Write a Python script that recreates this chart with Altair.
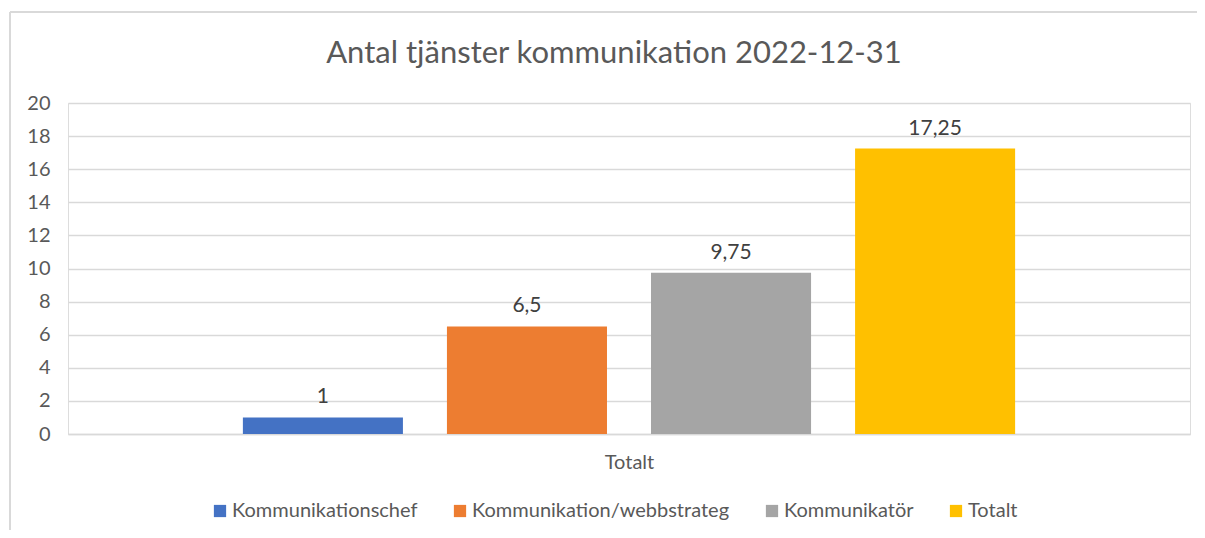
import altair as alt
import pandas as pd

series = ["Kommunikationschef", "Kommunikation/webbstrateg", "Kommunikatör", "Totalt"]
values = [1, 6.5, 9.75, 17.25]
colors = ["#4472C4", "#ED7D31", "#A5A5A5", "#FFC000"]
category = "Totalt"
y_ticks = [0, 2, 4, 6, 8, 10, 12, 14, 16, 18, 20]


def fmt(v):
    s = ("%g" % v)
    return s.replace(".", ",")


df = pd.DataFrame({
    "serie": series,
    "value": values,
    "label": [fmt(v) for v in values],
})

FONT = "Lato"
TXT = "#595959"

x_enc = alt.X(
    "serie:N",
    sort=series,
    scale=alt.Scale(paddingInner=0.2157, paddingOuter=0.857),
    axis=alt.Axis(
        labels=False, ticks=False, domain=True, domainColor="#D9D9D9", domainWidth=1.5,
        title=category, titleFontSize=20, titleFont=FONT, titleColor=TXT,
        titleFontWeight="normal", titlePadding=18,
    ),
)
y_enc = alt.Y(
    "value:Q",
    scale=alt.Scale(domain=[0, 20], nice=False),
    axis=alt.Axis(
        values=y_ticks, title=None, domain=False, ticks=False, labelOverlap=False,
        gridColor="#D9D9D9", gridWidth=1.5,
        labelFont=FONT, labelFontSize=20, labelColor=TXT, labelPadding=18,
    ),
)

bars = alt.Chart(df).mark_bar().encode(
    x=x_enc,
    y=y_enc,
    color=alt.Color(
        "serie:N",
        sort=series,
        scale=alt.Scale(domain=series, range=colors),
        legend=alt.Legend(
            title=None, orient="none", legendX=142, legendY=398,
            direction="horizontal", symbolType="square", symbolSize=150,
            symbolStrokeWidth=0, labelFont=FONT, labelFontSize=20, labelLimit=0,
            labelColor=TXT, columnPadding=32, labelOffset=2,
        ),
    ),
)

labels = alt.Chart(df).mark_text(
    baseline="alphabetic", dy=-14, font=FONT, fontSize=21, color="#404040"
).encode(
    x=x_enc,
    y=y_enc,
    text="label:N",
)

border_top = alt.Chart(df).mark_rule(
    stroke="#D9D9D9", strokeWidth=2, clip=False
).encode(
    x=alt.value(-58), x2=alt.value(1129), y=alt.value(-91)
)
border_left = alt.Chart(df).mark_rule(
    stroke="#D9D9D9", strokeWidth=2, clip=False
).encode(
    x=alt.value(-58), y=alt.value(-91), y2=alt.value(430)
)

chart = alt.layer(border_top, border_left, bars, labels).properties(
    width=1122,
    height=331,
    autosize=alt.AutoSizeParams(type="none"),
    padding={"left": 60, "top": 95, "right": 7, "bottom": 96},
    title=alt.Title(
        "Antal tjänster kommunikation 2022-12-31",
        font=FONT, fontSize=31, fontWeight="normal", color=TXT,
        anchor="middle", offset=0, dy=59, dx=-15,
    ),
).configure_view(stroke=None).configure(background="white")

chart.save("out.html", embed_options={"renderer": "svg", "actions": False})
